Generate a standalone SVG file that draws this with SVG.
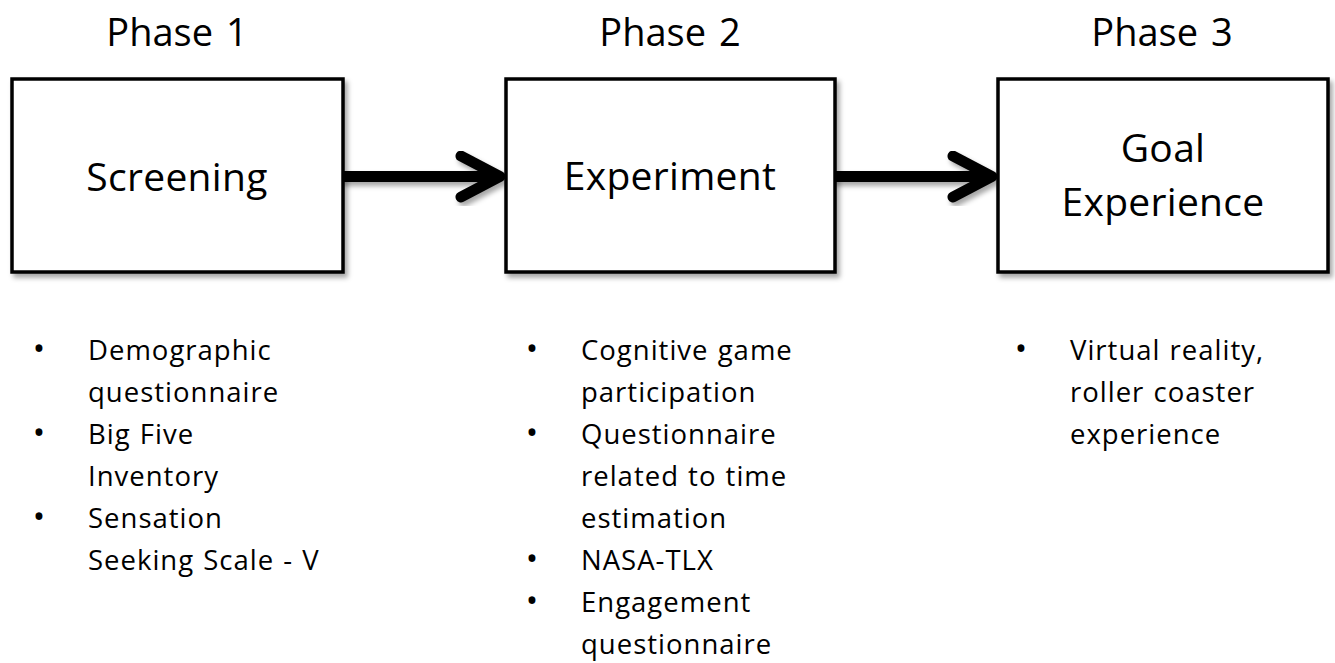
<svg xmlns="http://www.w3.org/2000/svg" width="1335" height="663" viewBox="0 0 1335 663">
  <style>
    .t { font-family: "Open Sans", "Liberation Sans", sans-serif; fill: #000; }
    .head { font-size: 38px; text-anchor: middle; word-spacing: 3px; }
    .label { font-size: 39px; text-anchor: middle; letter-spacing: 0.3px; }
    .item { font-size: 27.5px; letter-spacing: 1px; word-spacing: 1px; }
    .dot { font-size: 33px; text-anchor: middle; }
    .box { fill: #fff; stroke: #000; stroke-width: 3.5; }
    .link { fill: none; stroke: #000; stroke-width: 11; stroke-linecap: round; stroke-linejoin: round; }
  </style>
  <defs>
    <filter id="shadow" x="-10%" y="-10%" width="130%" height="130%">
      <feDropShadow dx="3" dy="4" stdDeviation="2.5" flood-color="#000" flood-opacity="0.35"/>
    </filter>
  </defs>
  <rect width="1335" height="663" fill="#fff"/>

  <!-- phase headings -->
  <g id="headings">
    <text class="t head" x="177" y="46">Phase 1</text>
    <text class="t head" x="670" y="46">Phase 2</text>
    <text class="t head" x="1162" y="46">Phase 3</text>
  </g>

  <!-- arrows between the phase boxes -->
  <g id="connectors" filter="url(#shadow)">
    <path class="link" d="M343 176.5 H498"/>
    <path class="link" d="M461 156 L500 176.5 L461 197"/>
    <path class="link" d="M835 176.5 H990"/>
    <path class="link" d="M953 156 L992 176.5 L953 197"/>
  </g>

  <g id="screening">
    <rect class="box" x="12" y="79" width="331" height="193" filter="url(#shadow)"/>
    <text class="t label" x="177" y="191">Screening</text>
  </g>

  <g id="experiment">
    <rect class="box" x="506" y="79" width="329" height="193" filter="url(#shadow)"/>
    <text class="t label" x="670" y="190">Experiment</text>
  </g>

  <g id="goal-experience">
    <rect class="box" x="998" y="79" width="330" height="193" filter="url(#shadow)"/>
    <text class="t label" x="1163" y="162">Goal</text>
    <text class="t label" x="1163" y="216">Experience</text>
  </g>

  <!-- phase 1 measures -->
  <g id="phase1-list">
    <text class="t dot" x="39" y="360">•</text>
    <text class="t item" x="88" y="360">Demographic</text>
    <text class="t item" x="88" y="402">questionnaire</text>
    <text class="t dot" x="39" y="444">•</text>
    <text class="t item" x="88" y="444">Big Five</text>
    <text class="t item" x="88" y="486">Inventory</text>
    <text class="t dot" x="39" y="528">•</text>
    <text class="t item" x="88" y="528">Sensation</text>
    <text class="t item" x="88" y="570">Seeking Scale - V</text>
  </g>

  <!-- phase 2 measures -->
  <g id="phase2-list">
    <text class="t dot" x="532" y="360">•</text>
    <text class="t item" x="581" y="360">Cognitive game</text>
    <text class="t item" x="581" y="402">participation</text>
    <text class="t dot" x="532" y="444">•</text>
    <text class="t item" x="581" y="444">Questionnaire</text>
    <text class="t item" x="581" y="486">related to time</text>
    <text class="t item" x="581" y="528">estimation</text>
    <text class="t dot" x="532" y="570">•</text>
    <text class="t item" x="581" y="570">NASA-TLX</text>
    <text class="t dot" x="532" y="612">•</text>
    <text class="t item" x="581" y="612">Engagement</text>
    <text class="t item" x="581" y="654">questionnaire</text>
  </g>

  <!-- phase 3 measures -->
  <g id="phase3-list">
    <text class="t dot" x="1021" y="360">•</text>
    <text class="t item" x="1070" y="360">Virtual reality,</text>
    <text class="t item" x="1070" y="402">roller coaster</text>
    <text class="t item" x="1070" y="444">experience</text>
  </g>
</svg>
